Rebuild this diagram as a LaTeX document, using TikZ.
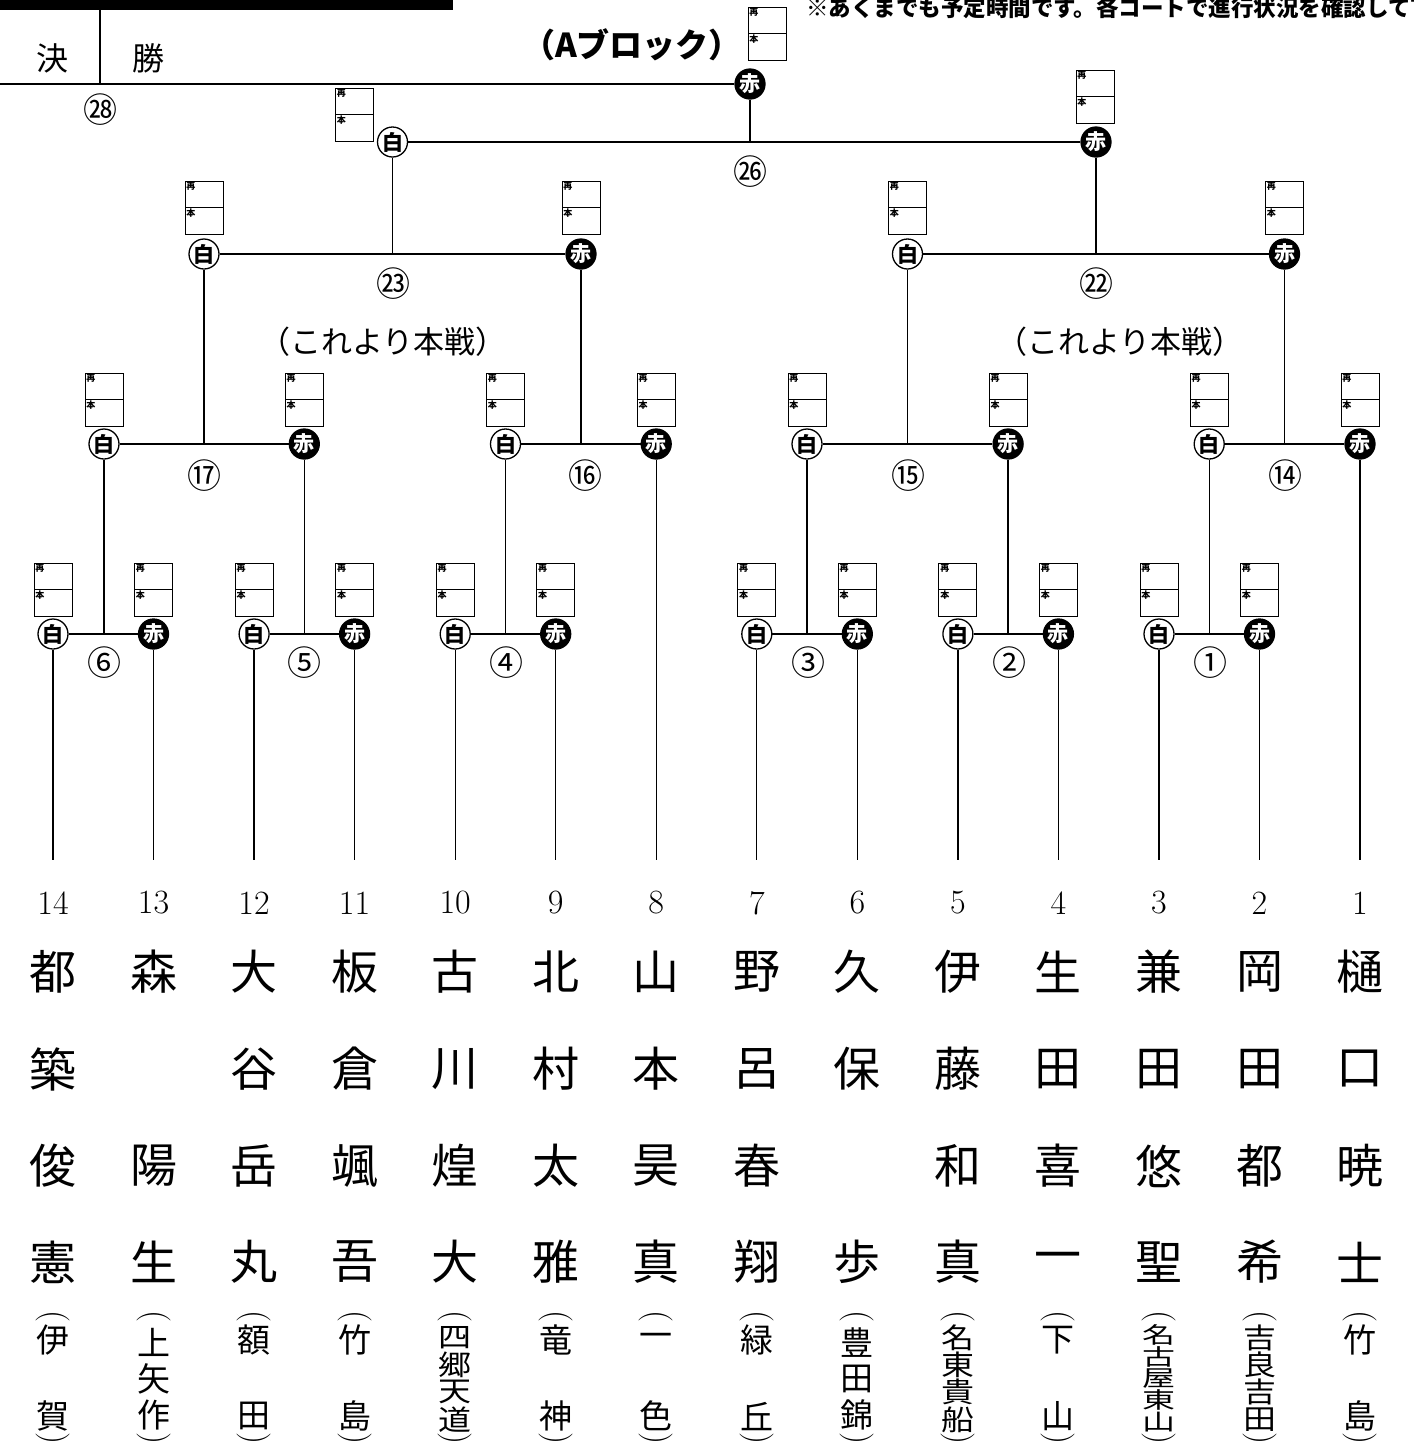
\documentclass[tikz,border=0pt]{standalone}
\usepackage{fontspec}
\newfontfamily\jp{Noto Sans CJK JP}
\usetikzlibrary{calc}
\tikzset{
  conn/.style={line width=1.3pt},
  wc/.style={circle, draw, line width=1.3pt, fill=white, minimum size=30pt, inner sep=0pt,
    font=\jp\bfseries\fontsize{21}{21}\selectfont},
  rc/.style={circle, draw, fill=black, text=white, line width=1.3pt, minimum size=30pt, inner sep=0pt,
    font=\jp\bfseries\fontsize{21}{21}\selectfont},
  sbl/.style={anchor=north west, inner sep=1.2pt, font=\jp\bfseries\fontsize{9}{9}\selectfont},
  sbox/.pic={
    \draw[line width=1pt] (-19,0) rectangle (19,53);
    \draw[line width=1pt] (-19,26.5) -- (19,26.5);
    \node[sbl] at (-19,0) {再};
    \node[sbl] at (-19,26.5) {本};
  },
  mno/.style={inner sep=0pt, font=\jp\fontsize{34}{34}\selectfont},
  num/.style={inner sep=0pt, font=\fontsize{34}{34}\selectfont},
  nm/.style={inner sep=0pt, font=\jp\fontsize{47}{47}\selectfont},
  sch/.style={inner sep=0pt, font=\jp\fontsize{33}{33}\selectfont},
  par/.style={inner sep=0pt, rotate=-90, font=\fontsize{34}{34}\selectfont},
}
\newcommand\schtwo[3]{%
  \node[par] at (#1,1317) {(};
  \node[sch] at (#1,1340) {#2};
  \node[sch] at (#1,1416) {#3};
  \node[par] at (#1,1438) {)};}
\newcommand\schmany[3]{%
  \node[par] at (#1,1317) {(};
  \pgfmathsetmacro\sstep{109/#2}
  \pgfmathsetmacro\sscl{min(1,\sstep/32)}
  \foreach \c [count=\k] in {#3} {
    \node[sch] at (#1,{1324+(\k-0.5)*\sstep}) {\scalebox{1}[\sscl]{\c}};
  }
  \node[par] at (#1,1438) {)};}
\begin{document}
\begin{tikzpicture}[x=1pt,y=-1pt]
\useasboundingbox (0,0) rectangle (1414,1449);
% header
\fill (0,0) rectangle (453,10);
\node[anchor=west, inner sep=0pt, font=\jp\bfseries\fontsize{22.5}{22.5}\selectfont] (note) at (806,8) {※あくまでも予定時間です。各コートで進行状況を確認して下};
\node[inner sep=0pt, font=\jp\fontsize{32}{32}\selectfont] (ke) at (52,58) {決};
\node[inner sep=0pt, font=\jp\fontsize{32}{32}\selectfont] (sho) at (148,58) {勝};
\coordinate (hv1) at (100,10);
\coordinate (hv2) at (100,84);
\draw[conn] (hv1) -- (hv2);
\node[inner sep=0pt, font=\jp\bfseries\fontsize{33}{33}\selectfont] (title) at (632,45) {（Aブロック）};

% circles
\node[rc] (r28) at (750,84) {赤};
\node[wc] (w26) at (392.5,142) {白};
\node[rc] (r26) at (1096,142) {赤};
\node[wc] (w23) at (204,254) {白};
\node[rc] (r23) at (581,254) {赤};
\node[wc] (w22) at (907.5,254) {白};
\node[rc] (r22) at (1284.5,254) {赤};
\node[wc] (w17) at (104,444) {白};
\node[rc] (r17) at (304.3,444) {赤};
\node[wc] (w16) at (505.5,444) {白};
\node[rc] (r16) at (656.2,444) {赤};
\node[wc] (w15) at (807,444) {白};
\node[rc] (r15) at (1008.1,444) {赤};
\node[wc] (w14) at (1209.2,444) {白};
\node[rc] (r14) at (1360,444) {赤};
\node[wc] (w6) at (53,634) {白};
\node[rc] (r6) at (153.5,634) {赤};
\node[wc] (w5) at (254.1,634) {白};
\node[rc] (r5) at (354.6,634) {赤};
\node[wc] (w4) at (455.2,634) {白};
\node[rc] (r4) at (555.7,634) {赤};
\node[wc] (w3) at (756.8,634) {白};
\node[rc] (r3) at (857.3,634) {赤};
\node[wc] (w2) at (957.9,634) {白};
\node[rc] (r2) at (1058.4,634) {赤};
\node[wc] (w1) at (1159,634) {白};
\node[rc] (r1) at (1259.5,634) {赤};

% score boxes
\pic at (767,7) {sbox};
\pic at (354.5,88) {sbox};
\pic at (1095,70) {sbox};
\foreach \x in {204,581,907.5,1284.5} {\pic at (\x,181) {sbox};}
\foreach \x in {104,304.3,505.5,656.2,807,1008.1,1209.2,1360} {\pic at (\x,373) {sbox};}
\foreach \x in {53,153.5,254.1,354.6,455.2,555.7,756.8,857.3,957.9,1058.4,1159,1259.5} {\pic at (\x,563) {sbox};}

% leaf ends
\coordinate (b14) at (53,860);
\coordinate (b13) at (153.5,860);
\coordinate (b12) at (254.1,860);
\coordinate (b11) at (354.6,860);
\coordinate (b10) at (455.2,860);
\coordinate (b9) at (555.7,860);
\coordinate (b8) at (656.2,860);
\coordinate (b7) at (756.8,860);
\coordinate (b6) at (857.3,860);
\coordinate (b5) at (957.9,860);
\coordinate (b4) at (1058.4,860);
\coordinate (b3) at (1159,860);
\coordinate (b2) at (1259.5,860);
\coordinate (b1) at (1360,860);
\coordinate (fl) at (0,84);

% connectors
\draw[conn] (w6) -- (b14); \draw[conn] (r6) -- (b13);
\draw[conn] (w5) -- (b12); \draw[conn] (r5) -- (b11);
\draw[conn] (w4) -- (b10); \draw[conn] (r4) -- (b9);
\draw[conn] (r16) -- (b8);
\draw[conn] (w3) -- (b7); \draw[conn] (r3) -- (b6);
\draw[conn] (w2) -- (b5); \draw[conn] (r2) -- (b4);
\draw[conn] (w1) -- (b3); \draw[conn] (r1) -- (b2);
\draw[conn] (r14) -- (b1);
\foreach \a/\b/\p in {w6/r6/w17, w5/r5/r17, w4/r4/w16, w3/r3/w15, w2/r2/r15, w1/r1/w14,
  w17/r17/w23, w16/r16/r23, w15/r15/w22, w14/r14/r22, w23/r23/w26, w22/r22/r26, w26/r26/r28} {
  \draw[conn] (\a) -- (\b);
  \draw[conn] (\p) -- (\p |- \a);
}
\draw[conn] (fl) -- (r28);

% match numbers
\node[mno] (m6) at (104,663) {⑥};
\node[mno] (m5) at (304,663) {⑤};
\node[mno] (m4) at (506,663) {④};
\node[mno] (m3) at (808,663) {③};
\node[mno] (m2) at (1009,663) {②};
\node[mno] (m1) at (1210,663) {①};
\node[mno] (m17) at (204,476) {⑰};
\node[mno] (m16) at (585,476) {⑯};
\node[mno] (m15) at (908,476) {⑮};
\node[mno] (m14) at (1285,476) {⑭};
\node[mno] (m23) at (393,284) {㉓};
\node[mno] (m22) at (1096,284) {㉒};
\node[mno] (m26) at (750,172) {㉖};
\node[mno] (m28) at (100,110) {㉘};
\node[inner sep=0pt, font=\jp\fontsize{31}{31}\selectfont] (hs1) at (383,342) {（これより本戦）};
\node[inner sep=0pt, font=\jp\fontsize{31}{31}\selectfont] (hs2) at (1120,342) {（これより本戦）};

% entries
\foreach \x/\n/\a/\b/\c/\d in {53/14/都/築/俊/憲, 153.5/13/森//陽/生, 254.1/12/大/谷/岳/丸,
  354.6/11/板/倉/颯/吾, 455.2/10/古/川/煌/大, 555.7/9/北/村/太/雅, 656.2/8/山/本/昊/真,
  756.8/7/野/呂/春/翔, 857.3/6/久/保//歩, 957.9/5/伊/藤/和/真, 1058.4/4/生/田/喜/一,
  1159/3/兼/田/悠/聖, 1259.5/2/岡/田/都/希, 1360/1/樋/口/暁/士} {
  \node[num] at (\x,903) {\n};
  \node[nm] at (\x,972) {\a};
  \node[nm] at (\x,1069) {\b};
  \node[nm] at (\x,1166) {\c};
  \node[nm] at (\x,1262) {\d};
}
% schools
\schtwo{53}{伊}{賀}
\schmany{153.5}{3}{上,矢,作}
\schtwo{254.1}{額}{田}
\schtwo{354.6}{竹}{島}
\schmany{455.2}{4}{四,郷,天,道}
\schtwo{555.7}{竜}{神}
\schtwo{656.2}{一}{色}
\schtwo{756.8}{緑}{丘}
\schmany{857.3}{3}{豊,田,錦}
\schmany{957.9}{4}{名,東,貴,船}
\schtwo{1058.4}{下}{山}
\schmany{1159}{5}{名,古,屋,東,山}
\schmany{1259.5}{4}{吉,良,吉,田}
\schtwo{1360}{竹}{島}
\end{tikzpicture}
\end{document}
